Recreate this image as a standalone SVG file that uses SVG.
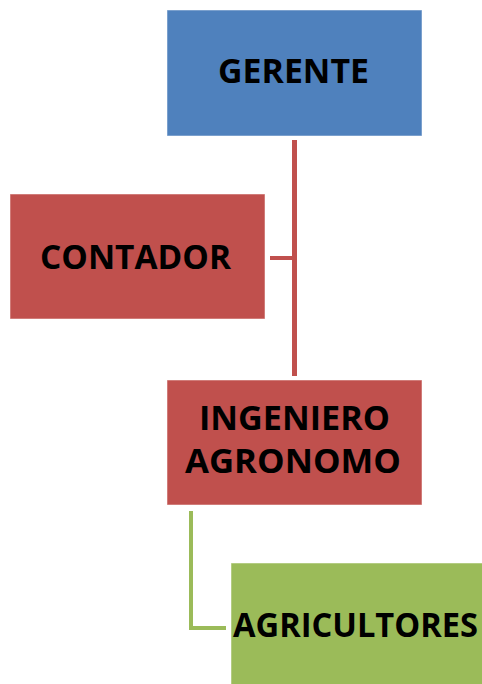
<svg xmlns="http://www.w3.org/2000/svg" width="482" height="684" viewBox="0 0 482 684">
<style>
.lbl{font-family:"Open Sans","Liberation Sans",sans-serif;font-weight:bold;font-size:34px;fill:#000;}
.box{stroke:#fff;stroke-opacity:0.5;stroke-width:1;}
</style>
<rect width="482" height="684" fill="#fff"/>
<g id="connectors" fill="none">
<line x1="294.5" y1="140" x2="294.5" y2="376" stroke="#C0504D" stroke-width="5"/>
<line x1="270" y1="258" x2="294.5" y2="258" stroke="#C0504D" stroke-width="4"/>
<polyline points="191,511 191,628 226,628" stroke="#9BBB59" stroke-width="4"/>
</g>
<g id="gerente">
<rect class="box" x="167" y="10" width="255" height="126" fill="#4F81BD"/>
<text class="lbl" x="218" y="83" textLength="151" lengthAdjust="spacingAndGlyphs">GERENTE</text>
</g>
<g id="contador">
<rect class="box" x="10" y="194" width="255" height="125" fill="#C0504D"/>
<text class="lbl" x="40" y="269" textLength="191" lengthAdjust="spacingAndGlyphs">CONTADOR</text>
</g>
<g id="ingeniero">
<rect class="box" x="167" y="380" width="255" height="125" fill="#C0504D"/>
<text class="lbl" x="199" y="430" textLength="191" lengthAdjust="spacingAndGlyphs">INGENIERO</text>
<text class="lbl" x="185" y="473" textLength="216" lengthAdjust="spacingAndGlyphs">AGRONOMO</text>
</g>
<g id="agricultores">
<rect class="box" x="231" y="563" width="260" height="130" fill="#9BBB59"/>
<text class="lbl" x="233" y="637" textLength="245" lengthAdjust="spacingAndGlyphs">AGRICULTORES</text>
</g>
</svg>
